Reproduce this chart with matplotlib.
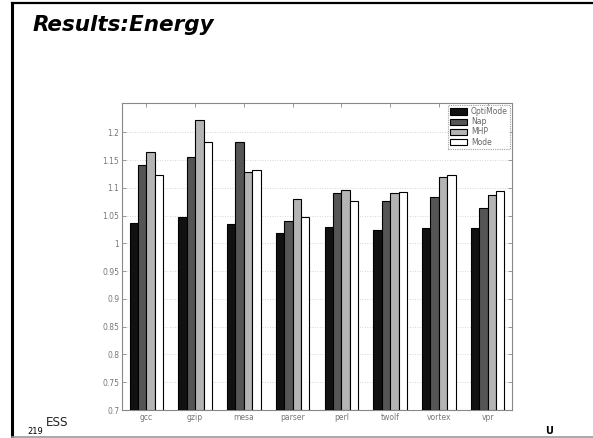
import matplotlib
matplotlib.use("Agg")
import matplotlib.pyplot as plt
from matplotlib.lines import Line2D
import numpy as np

benchmarks = ["gcc", "gzip", "mesa", "parser", "perl", "twolf", "vortex", "vpr"]
series_names = ["OptiMode", "Nap", "MHP", "Mode"]
optimode = [1.037, 1.048, 1.035, 1.019, 1.029, 1.024, 1.028, 1.027]
nap = [1.141, 1.156, 1.182, 1.040, 1.090, 1.077, 1.084, 1.063]
mhp = [1.165, 1.222, 1.129, 1.080, 1.096, 1.090, 1.119, 1.088]
mode = [1.123, 1.183, 1.132, 1.048, 1.077, 1.093, 1.123, 1.095]
yticks = [0.7, 0.75, 0.8, 0.85, 0.9, 0.95, 1.0, 1.05, 1.1, 1.15, 1.2]
ytick_labels = ["0.7", "0.75", "0.8", "0.85", "0.9", "0.95", "1", "1.05", "1.1", "1.15", "1.2"]

fills = ["#111111", "#555555", "#b4b4b4", "#ffffff"]

fig = plt.figure(figsize=(5.93, 4.38), dpi=100)
fig.patch.set_facecolor("white")

# slide frame
fig.add_artist(Line2D([12 / 593, 12 / 593], [0, 1 - 3 / 438], color="black", lw=2.2,
                      transform=fig.transFigure))
fig.add_artist(Line2D([12 / 593, 1], [1 - 3 / 438, 1 - 3 / 438], color="black", lw=1.6,
                      transform=fig.transFigure))
fig.add_artist(Line2D([12 / 593, 1], [1 - 436.5 / 438, 1 - 436.5 / 438], color="#9a9a9a", lw=1.2,
                      transform=fig.transFigure))

fig.text(33 / 593, 1 - 25 / 438, "Results:Energy", fontsize=15.5, fontweight="bold",
         fontstyle="italic", family="DejaVu Sans", va="center", ha="left")
fig.text(27 / 593, 1 - 431 / 438, "219", fontsize=6, va="center", ha="left")
fig.text(46 / 593, 1 - 423 / 438, "ESS", fontsize=9.5, va="center", ha="left",
         family="DejaVu Sans", fontstretch="condensed", color="#222222")
fig.text(545 / 593, 1 - 431 / 438, "U", fontsize=7, fontweight="bold", va="center", ha="left")

ax = fig.add_axes([122 / 593, 1 - 410 / 438, 390 / 593, 307 / 438])
x = np.arange(1, len(benchmarks) + 1)
width = 0.172
all_series = [optimode, nap, mhp, mode]
for i, (vals, name, fc) in enumerate(zip(all_series, series_names, fills)):
    offs = (i - 1.5) * width
    ax.bar(x + offs, np.array(vals) - 0.7, width, bottom=0.7, color=fc,
           edgecolor="black", linewidth=0.8, label=name, zorder=3)

ax.set_xlim(0.5, 8.5)
ax.set_ylim(0.7, 1.253)
ax.set_xticks(x)
ax.set_xticklabels(benchmarks)
ax.set_yticks(yticks)
ax.set_yticklabels(ytick_labels)
ax.tick_params(axis="both", direction="in", length=3, width=0.6, colors="#888888",
               labelsize=5.5, labelcolor="#777777", right=True, top=True, pad=2)
ax.yaxis.grid(True, linestyle=(0, (1, 2)), color="#c8c8c8", linewidth=0.6, zorder=0)
for sp in ax.spines.values():
    sp.set_linestyle((0, (1, 1)))
    sp.set_color("#888888")
    sp.set_linewidth(0.8)

leg = ax.legend(loc="upper right", fontsize=5.5, frameon=True, fancybox=False,
                handlelength=2.2, handleheight=0.9, borderpad=0.3, labelspacing=0.15,
                handletextpad=0.5, borderaxespad=0.25)
leg.get_frame().set_edgecolor("#888888")
leg.get_frame().set_linestyle((0, (1, 1)))
leg.get_frame().set_linewidth(0.8)
for t in leg.get_texts():
    t.set_color("#666666")

fig.savefig("out.png", dpi=100)
